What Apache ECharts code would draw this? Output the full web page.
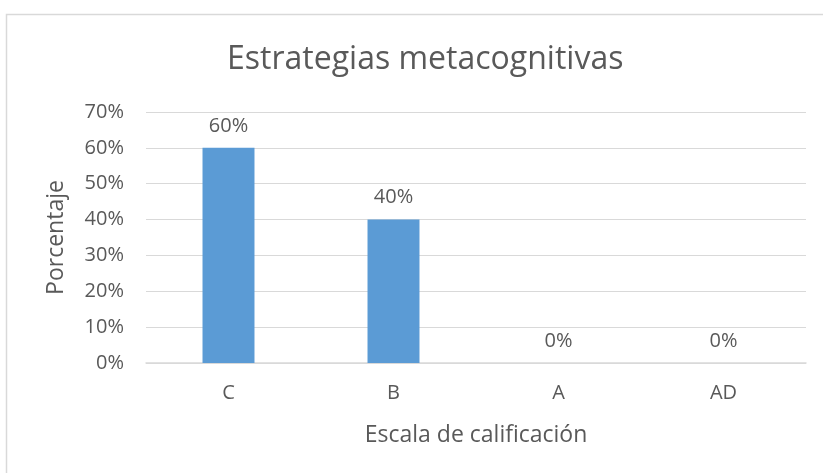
<!DOCTYPE html>
<html>
<head>
<meta charset="utf-8">
<script src="https://cdn.jsdelivr.net/npm/echarts@6/dist/echarts.min.js"></script>
<style>
  html, body { margin: 0; padding: 0; background: #fff; }
  #main { width: 823px; height: 473px; }
</style>
</head>
<body>
<div id="main"></div>
<script>
  // datos del grafico
  const categorias = ['C', 'B', 'A', 'AD']
  const porcentajes = [0.6, 0.4, 0, 0]
  const tituloTexto = 'Estrategias metacognitivas'
  const nombreX = 'Escala de calificación'
  const nombreY = 'Porcentaje'

  const FONT = '"Open Sans", Lato, sans-serif'
  const GRIS = '#595959'

  let chart = echarts.init(document.getElementById('main'))
  let option = {
    animation: false,
    title: {
      text: tituloTexto,
      left: 222,
      top: 39,
      textStyle: { color: GRIS, fontSize: 32, fontWeight: 'normal', fontFamily: FONT }
    },
    graphic: [{
      type: 'rect',
      shape: { x: 6.5, y: 14.5, width: 900, height: 600 },
      style: { fill: 'none', stroke: '#d9d9d9', lineWidth: 1.5 },
      silent: true
    }],
    grid: { left: 146, right: 17, top: 112, bottom: 110 },
    xAxis: {
      type: 'category',
      data: categorias,
      name: nombreX,
      nameLocation: 'middle',
      nameGap: 61,
      nameTextStyle: { color: GRIS, fontSize: 23, fontFamily: FONT },
      axisLine: { lineStyle: { color: '#d9d9d9', width: 1.5 } },
      axisTick: { show: false },
      axisLabel: { color: GRIS, fontSize: 20, fontFamily: FONT, margin: 20 }
    },
    yAxis: {
      type: 'value',
      min: 0,
      max: 0.7,
      interval: 0.1,
      name: nombreY,
      nameLocation: 'middle',
      nameGap: 78,
      nameTextStyle: { color: GRIS, fontSize: 23, fontFamily: FONT },
      axisLine: { show: false },
      axisTick: { show: false },
      splitLine: { lineStyle: { color: '#d9d9d9', width: 1 } },
      axisLabel: {
        color: GRIS, fontSize: 20, fontFamily: FONT, margin: 22,
        formatter: v => Math.round(v * 100) + '%'
      }
    },
    series: [{
      type: 'bar',
      data: porcentajes,
      barWidth: '31.5%',
      itemStyle: { color: '#5b9bd5' },
      label: {
        show: true,
        position: 'top',
        distance: 12,
        color: GRIS,
        fontSize: 20,
        fontFamily: FONT,
        formatter: p => Math.round(p.value * 100) + '%'
      }
    }]
  }
  chart.setOption(option)
</script>
</body>
</html>
